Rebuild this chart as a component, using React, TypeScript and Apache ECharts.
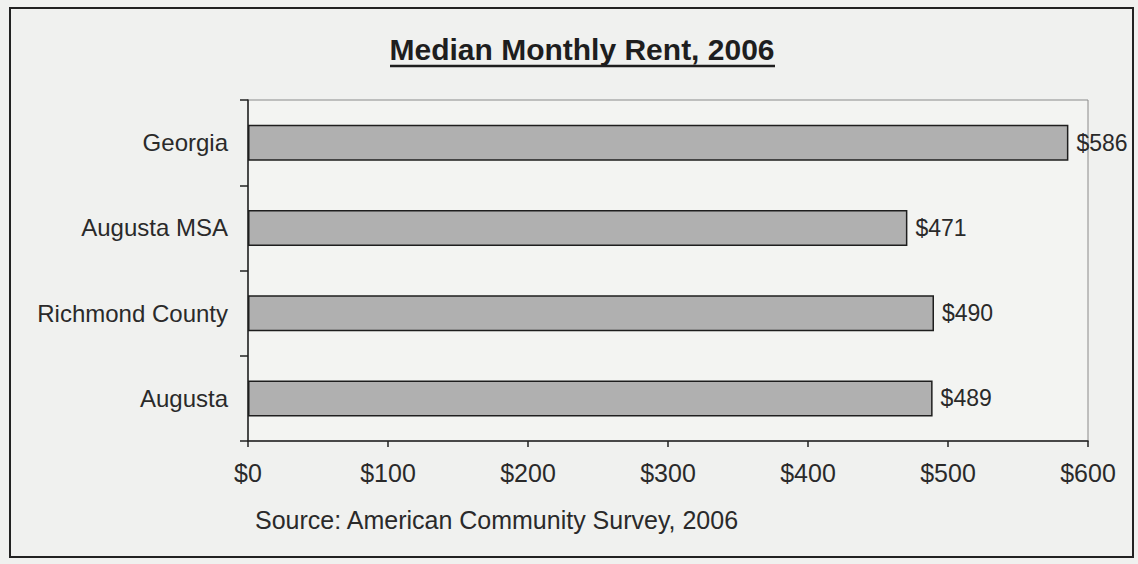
import React, { useEffect, useRef } from "react";
import * as echarts from "echarts";

const categories = ["Georgia", "Augusta MSA", "Richmond County", "Augusta"];
const rentValues = [586, 471, 490, 489];
const xTicks = { min: 0, max: 600, interval: 100 };
const titleText = "Median Monthly Rent, 2006";
const sourceText = "Source: American Community Survey, 2006";

export default function App() {
  const ref = useRef<HTMLDivElement>(null);
  useEffect(() => {
    if (!ref.current) return;
    const chart = echarts.init(ref.current, null, { renderer: "svg" });
    const font = "Liberation Sans, Arial, sans-serif";
    chart.setOption({
      animation: false,
      backgroundColor: "#f0f1ef",
      textStyle: { fontFamily: font },
      grid: {
        left: 248,
        top: 100,
        right: 50,
        bottom: 123,
        show: true,
        borderColor: "#8a8a8a",
        borderWidth: 1,
        backgroundColor: "#f3f4f2",
      },
      xAxis: {
        type: "value",
        min: xTicks.min,
        max: xTicks.max,
        interval: xTicks.interval,
        splitLine: { show: false },
        axisLine: { show: true, lineStyle: { color: "#222", width: 1.5 } },
        axisTick: { show: true, inside: false, length: 6, lineStyle: { color: "#222", width: 1.5 } },
        axisLabel: {
          formatter: (v: number) => "$" + v,
          color: "#2a2a2a",
          fontSize: 25,
          margin: 19,
          fontFamily: font,
        },
      },
      yAxis: {
        type: "category",
        data: categories,
        inverse: true,
        axisLine: { show: true, lineStyle: { color: "#222", width: 1.5 } },
        axisTick: { show: true, inside: false, length: 8, lineStyle: { color: "#222", width: 1.5 } },
        axisLabel: { color: "#2a2a2a", fontSize: 24, margin: 20, fontFamily: font },
      },
      series: [
        {
          type: "bar",
          data: rentValues,
          barWidth: 36,
          itemStyle: { color: "#b0b0b0", borderColor: "#1e1e1e", borderWidth: 1.5 },
          label: {
            show: true,
            position: "right",
            distance: 8,
            formatter: (p: any) => "$" + p.value,
            color: "#2a2a2a",
            fontSize: 23,
            fontFamily: font,
          },
        },
      ],
      graphic: [
        {
          type: "rect",
          shape: { x: 10, y: 8, width: 1123, height: 549 },
          style: { fill: "none", stroke: "#222", lineWidth: 2 },
          silent: true,
        },
        {
          type: "text",
          x: 582,
          y: 49,
          style: {
            text: titleText,
            fontSize: 30,
            fontWeight: "bold",
            fontFamily: font,
            fill: "#1e1e1e",
            textAlign: "center",
            textVerticalAlign: "middle",
          },
        },
        {
          type: "line",
          shape: { x1: 390, y1: 66, x2: 775, y2: 66 },
          style: { stroke: "#1e1e1e", lineWidth: 2.5 },
        },
        {
          type: "text",
          x: 255,
          y: 520,
          style: {
            text: sourceText,
            fontSize: 25,
            fontFamily: font,
            fill: "#2a2a2a",
            textAlign: "left",
            textVerticalAlign: "middle",
          },
        },
      ],
    });
    return () => chart.dispose();
  }, []);
  return (
    <div
      ref={ref}
      style={{ position: "absolute", left: 0, top: 0, width: 1138, height: 564 }}
    />
  );
}
